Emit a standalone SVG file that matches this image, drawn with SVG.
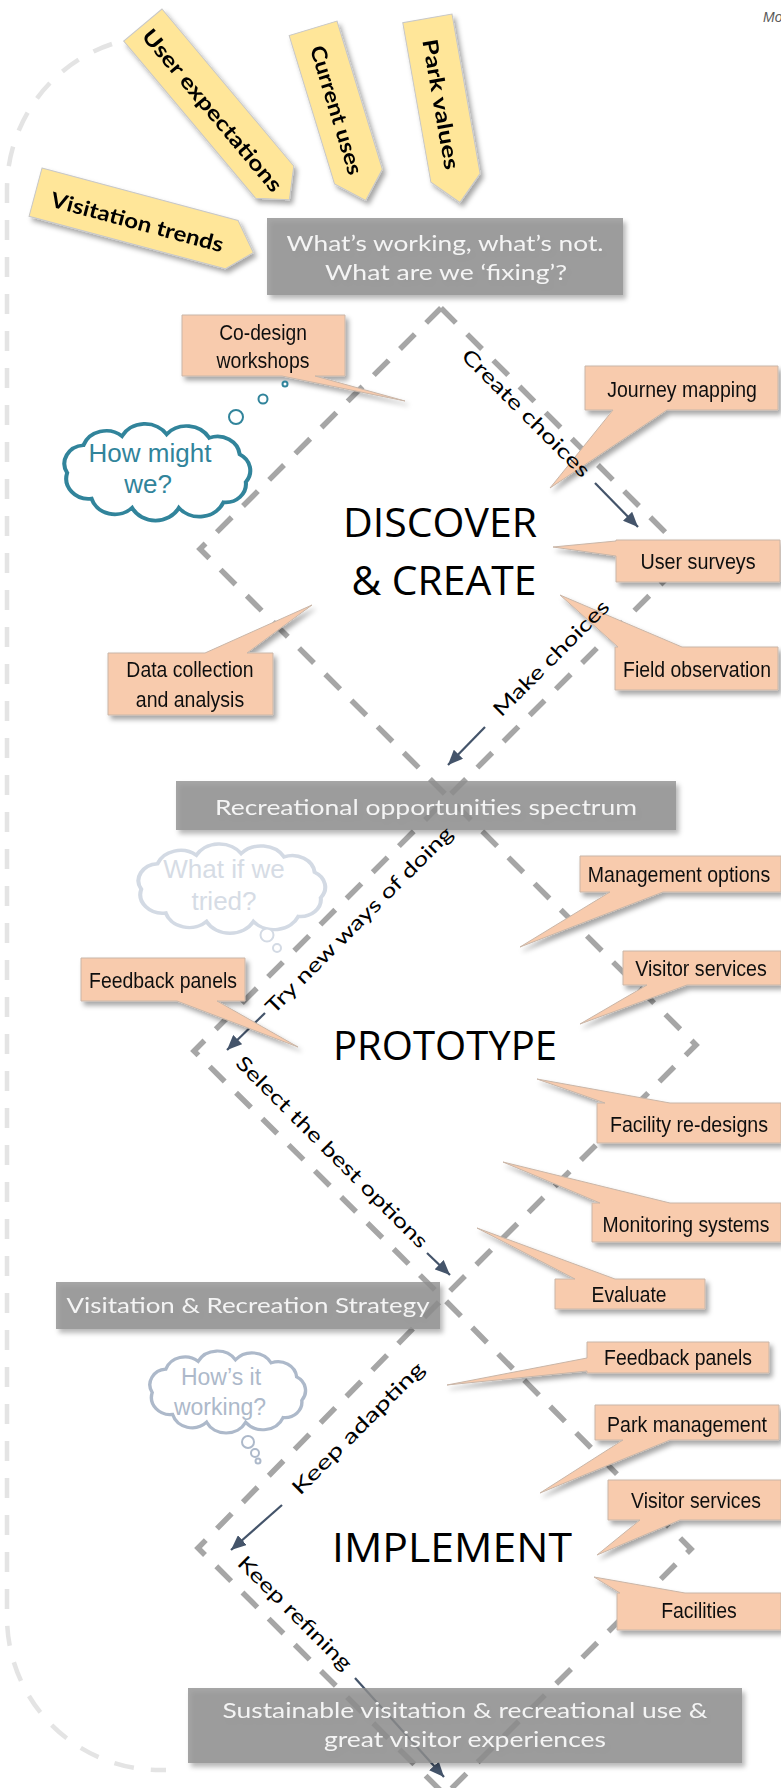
<svg xmlns="http://www.w3.org/2000/svg" width="781" height="1788" viewBox="0 0 781 1788">
<defs>
<filter id="sh" x="-20%" y="-20%" width="150%" height="170%"><feDropShadow dx="3" dy="4" stdDeviation="2.5" flood-color="#000" flood-opacity="0.35"/></filter>
<marker id="ah" markerUnits="userSpaceOnUse" markerWidth="16" markerHeight="13" refX="15" refY="6.5" orient="auto"><path d="M0,0 L15,6.5 L0,13 z" fill="#44546a"/></marker>
<path id="cloud" d="M6,26 A10,10 0 0 1 14,11 A12,12 0 0 1 33,6 A13,13 0 0 1 55,5 A13,13 0 0 1 76,7 A11,11 0 0 1 91,16 A10,10 0 0 1 94,31 A10,10 0 0 1 83,42 A13,13 0 0 1 61,45 A13,13 0 0 1 38,45 A12,12 0 0 1 18,40 A11,11 0 0 1 6,26 Z"/>
</defs>
<style>
.tag polygon{fill:#ffe699;stroke:#c8c8c8;stroke-width:1}
.tagt{font-family:Lato,"DejaVu Sans",sans-serif;font-weight:700;font-size:21px;fill:#000;text-anchor:middle}
.gbox rect{fill:#8f8f8f;fill-opacity:0.8}
.gt{font-family:Lato,"DejaVu Sans",sans-serif;font-size:22px;fill:#f4f4f4;text-anchor:middle}
.co path{fill:#f8cbad;stroke:#c9b6a8;stroke-width:1}
.ct{font-family:"Liberation Sans",Arial,sans-serif;font-size:22px;fill:#111;text-anchor:middle}
.dash{fill:none;stroke:#a6a6a6;stroke-width:5.5;stroke-dasharray:21 16;stroke-linejoin:miter}
.outer{fill:none;stroke:#e4e4e4;stroke-width:4.5;stroke-dasharray:20 17}
.arr{stroke:#44546a;stroke-width:2.2;fill:none;marker-end:url(#ah)}
.dl{font-family:Lato,"DejaVu Sans",sans-serif;font-size:20px;fill:#000;text-anchor:middle}
.title{font-family:"Open Sans","Liberation Sans",sans-serif;font-size:41px;fill:#000;text-anchor:middle}
.cl{fill:#fff;stroke-width:2}
.clt{font-family:"Liberation Sans",Arial,sans-serif;text-anchor:middle}
</style>
<rect width="781" height="1788" fill="#fff"/>
<text x="763" y="22" font-family="Liberation Sans, sans-serif" font-style="italic" font-size="14" fill="#595959">Mo</text>

<g id="connectors">
<path class="outer" d="M112,44 A153,153 0 0 0 7,190 L7,1617 A153,153 0 0 0 160,1770 L166,1770"/>
<path class="dash" d="M441,308 L200,549 L448,797 L696,1045 L443,1298 L198,1548 L445,1795"/>
<path class="dash" d="M441,308 L689,556 L448,797 L194,1051 L443,1298 L691,1549 L445,1795"/>
<path class="arr" d="M595,483 L638,527"/>
<path class="arr" d="M485,727 L448,765"/>
<path class="arr" d="M265,1013 L227,1050"/>
<path class="arr" d="M427,1253 L450,1275"/>
<path class="arr" d="M282,1505 L231,1550"/>
<path class="arr" d="M355,1678 L444,1777"/>
</g>

<g id="tag-visitation-trends" class="tag" filter="url(#sh)"><g transform="translate(42,168) rotate(15)"><polygon points="0,0 203,0 226,27 203,50 0,50"/><text class="tagt" x="106" y="35" textLength="178" lengthAdjust="spacingAndGlyphs">Visitation trends</text></g></g>
<g id="tag-user-expectations" class="tag" filter="url(#sh)"><g transform="translate(162,9) rotate(50)"><polygon points="0,0 205,0 228,25 205,50 0,50"/><text class="tagt" x="110" y="34" textLength="205" lengthAdjust="spacingAndGlyphs">User expectations</text></g></g>
<g id="tag-current-uses" class="tag" filter="url(#sh)"><g transform="translate(337,21) rotate(73)"><polygon points="0,0 155,0 180,25 155,50 0,50"/><text class="tagt" x="85" y="34" textLength="134" lengthAdjust="spacingAndGlyphs">Current uses</text></g></g>
<g id="tag-park-values" class="tag" filter="url(#sh)"><g transform="translate(452,14) rotate(80)"><polygon points="0,0 162,0 187,25 162,50 0,50"/><text class="tagt" x="87" y="34" textLength="132" lengthAdjust="spacingAndGlyphs">Park values</text></g></g>

<g id="box-whats-working" class="gbox" filter="url(#sh)"><rect x="267" y="218" width="356" height="77"/>
<text class="gt" x="445" y="251" textLength="317" lengthAdjust="spacingAndGlyphs">What’s working, what’s not.</text>
<text class="gt" x="446" y="280" textLength="242" lengthAdjust="spacingAndGlyphs">What are we ‘fixing’?</text></g>
<g id="box-recreational-spectrum" class="gbox" filter="url(#sh)"><rect x="176" y="781" width="500" height="49"/>
<text class="gt" x="426" y="815" textLength="422" lengthAdjust="spacingAndGlyphs">Recreational opportunities spectrum</text></g>
<g id="box-strategy" class="gbox" filter="url(#sh)"><rect x="56" y="1282" width="384" height="47"/>
<text class="gt" x="248" y="1313" textLength="363" lengthAdjust="spacingAndGlyphs">Visitation &amp; Recreation Strategy</text></g>
<g id="box-sustainable" class="gbox" filter="url(#sh)"><rect x="188" y="1688" width="554" height="75"/>
<text class="gt" x="465" y="1718" textLength="485" lengthAdjust="spacingAndGlyphs">Sustainable visitation &amp; recreational use &amp;</text>
<text class="gt" x="465" y="1747" textLength="282" lengthAdjust="spacingAndGlyphs">great visitor experiences</text></g>

<g id="title-discover"><text class="title" x="440" y="537" textLength="194" lengthAdjust="spacingAndGlyphs">DISCOVER</text><text class="title" x="444" y="595" textLength="185" lengthAdjust="spacingAndGlyphs">&amp; CREATE</text></g>
<g id="title-prototype"><text class="title" x="445" y="1060" textLength="224" lengthAdjust="spacingAndGlyphs">PROTOTYPE</text></g>
<g id="title-implement"><text class="title" x="452" y="1562" textLength="240" lengthAdjust="spacingAndGlyphs">IMPLEMENT</text></g>

<g id="co-codesign" class="co" filter="url(#sh)"><path d="M182,315 H345 V376 H315 L405,401 L282,376 H182 Z"/><text class="ct" transform="translate(263,340) scale(0.86,1)" textLength="102" lengthAdjust="spacingAndGlyphs">Co-design</text><text class="ct" transform="translate(263,368) scale(0.86,1)" textLength="108" lengthAdjust="spacingAndGlyphs">workshops</text></g>
<g id="co-journey" class="co" filter="url(#sh)"><path d="M585,366 H778 V410 H667 L550,488 L613,410 H585 Z"/><text class="ct" transform="translate(682,397) scale(0.86,1)" textLength="174" lengthAdjust="spacingAndGlyphs">Journey mapping</text></g>
<g id="co-surveys" class="co" filter="url(#sh)"><path d="M616,540 H780 V582 H616 V556 L553,547 L616,541 Z"/><text class="ct" transform="translate(698,569) scale(0.86,1)" textLength="134" lengthAdjust="spacingAndGlyphs">User surveys</text></g>
<g id="co-field" class="co" filter="url(#sh)"><path d="M615,647 H618 L560,595 L682,647 H778 V690 H615 Z"/><text class="ct" transform="translate(697,677) scale(0.86,1)" textLength="172" lengthAdjust="spacingAndGlyphs">Field observation</text></g>
<g id="co-data" class="co" filter="url(#sh)"><path d="M108,653 H205 L312,605 L247,653 H273 V715 H108 Z"/><text class="ct" transform="translate(190,677) scale(0.86,1)" textLength="148" lengthAdjust="spacingAndGlyphs">Data collection</text><text class="ct" transform="translate(190,707) scale(0.86,1)" textLength="126" lengthAdjust="spacingAndGlyphs">and analysis</text></g>
<g id="co-management" class="co" filter="url(#sh)"><path d="M580,856 H781 V892 H663 L520,947 L610,892 H580 Z"/><text class="ct" transform="translate(679,882) scale(0.86,1)" textLength="212" lengthAdjust="spacingAndGlyphs">Management options</text></g>
<g id="co-visitor1" class="co" filter="url(#sh)"><path d="M623,951 H781 V985 H687 L580,1024 L647,985 H623 Z"/><text class="ct" transform="translate(701,976) scale(0.86,1)" textLength="153" lengthAdjust="spacingAndGlyphs">Visitor services</text></g>
<g id="co-feedback1" class="co" filter="url(#sh)"><path d="M81,958 H245 V1001 H217 L298,1047 L177,1001 H81 Z"/><text class="ct" transform="translate(163,988) scale(0.86,1)" textLength="172" lengthAdjust="spacingAndGlyphs">Feedback panels</text></g>
<g id="co-facility" class="co" filter="url(#sh)"><path d="M597,1103 H605 L537,1079 L670,1103 H781 V1143 H597 Z"/><text class="ct" transform="translate(689,1132) scale(0.86,1)" textLength="184" lengthAdjust="spacingAndGlyphs">Facility re-designs</text></g>
<g id="co-monitoring" class="co" filter="url(#sh)"><path d="M592,1203 H600 L503,1162 L670,1203 H781 V1242 H592 Z"/><text class="ct" transform="translate(686,1232) scale(0.86,1)" textLength="194" lengthAdjust="spacingAndGlyphs">Monitoring systems</text></g>
<g id="co-evaluate" class="co" filter="url(#sh)"><path d="M555,1279 H575 L477,1228 L615,1279 H705 V1309 H555 Z"/><text class="ct" transform="translate(629,1302) scale(0.86,1)" textLength="87" lengthAdjust="spacingAndGlyphs">Evaluate</text></g>
<g id="co-feedback2" class="co" filter="url(#sh)"><path d="M587,1342 H769 V1373 H587 V1371 L447,1385 L587,1358 Z"/><text class="ct" transform="translate(678,1365) scale(0.86,1)" textLength="172" lengthAdjust="spacingAndGlyphs">Feedback panels</text></g>
<g id="co-park" class="co" filter="url(#sh)"><path d="M595,1405 H779 V1440 H670 L540,1493 L623,1440 H595 Z"/><text class="ct" transform="translate(687,1432) scale(0.86,1)" textLength="186" lengthAdjust="spacingAndGlyphs">Park management</text></g>
<g id="co-visitor2" class="co" filter="url(#sh)"><path d="M608,1480 H781 V1520 H680 L597,1555 L640,1520 H608 Z"/><text class="ct" transform="translate(696,1508) scale(0.86,1)" textLength="151" lengthAdjust="spacingAndGlyphs">Visitor services</text></g>
<g id="co-facilities" class="co" filter="url(#sh)"><path d="M617,1593 H620 L594,1577 L685,1593 H781 V1630 H617 Z"/><text class="ct" transform="translate(699,1618) scale(0.86,1)" textLength="88" lengthAdjust="spacingAndGlyphs">Facilities</text></g>

<g id="cloud-how-might-we" stroke="#31849b">
<use href="#cloud" class="cl" transform="translate(55,425) scale(2.03,1.84)" stroke-width="1.05"/>
<circle class="cl" cx="236" cy="417" r="7"/><circle class="cl" cx="263" cy="399" r="4.5"/><circle class="cl" cx="285" cy="384" r="2.5"/>
<text class="clt" x="150" y="462" font-size="26" fill="#31849b" stroke="none">How might</text>
<text class="clt" x="148" y="493" font-size="26" fill="#31849b" stroke="none">we?</text>
</g>
<g id="cloud-what-if" stroke="#d3dae4">
<use href="#cloud" class="cl" transform="translate(129,845) scale(2.04,1.70)" stroke-width="1.2"/>
<circle class="cl" cx="267" cy="935" r="6.5"/><circle class="cl" cx="277" cy="948" r="4"/>
<text class="clt" x="224" y="878" font-size="26" fill="#d6dce5" stroke="none">What if we</text>
<text class="clt" x="224" y="910" font-size="26" fill="#d6dce5" stroke="none">tried?</text>
</g>
<g id="cloud-hows-it-working" stroke="#adb9ca">
<use href="#cloud" class="cl" transform="translate(142,1352) scale(1.70,1.56)" stroke-width="1.3"/>
<circle class="cl" cx="248" cy="1442" r="6"/><circle class="cl" cx="255" cy="1453" r="4"/><circle class="cl" cx="258" cy="1461" r="2.5"/>
<text class="clt" x="221" y="1385" font-size="23" fill="#adb9ca" stroke="none">How’s it</text>
<text class="clt" x="220" y="1415" font-size="23" fill="#adb9ca" stroke="none">working?</text>
</g>

<g id="connector-labels">
<text class="dl" transform="translate(526,413) rotate(45)" y="7" textLength="172" lengthAdjust="spacingAndGlyphs">Create choices</text>
<text class="dl" transform="translate(551,658) rotate(-45)" y="7" textLength="155" lengthAdjust="spacingAndGlyphs">Make choices</text>
<text class="dl" transform="translate(359,920) rotate(-45)" y="7" textLength="255" lengthAdjust="spacingAndGlyphs">Try new ways of doing</text>
<text class="dl" transform="translate(332,1152) rotate(45)" y="7" textLength="262" lengthAdjust="spacingAndGlyphs">Select the best options</text>
<text class="dl" transform="translate(358,1428) rotate(-45)" y="7" textLength="178" lengthAdjust="spacingAndGlyphs">Keep adapting</text>
<text class="dl" transform="translate(295,1613) rotate(45)" y="7" textLength="152" lengthAdjust="spacingAndGlyphs">Keep refining</text>
</g>
</svg>
